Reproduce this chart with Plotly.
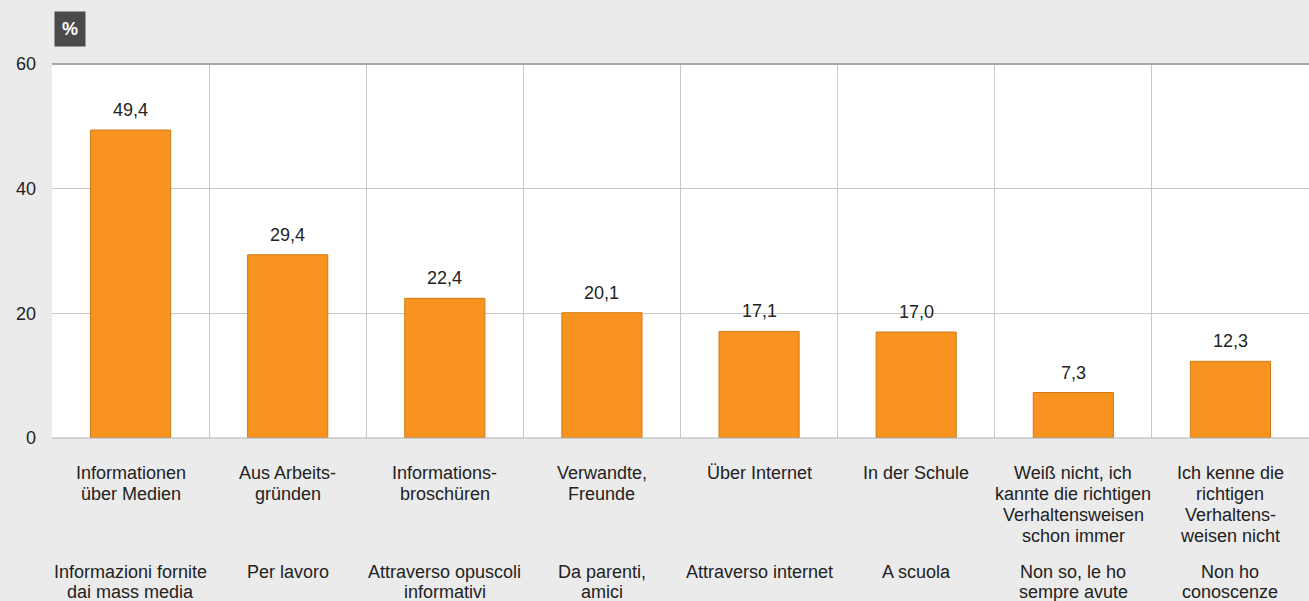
import plotly.graph_objects as go

categories_de = [
    "Informationen<br>über Medien",
    "Aus Arbeits-<br>gründen",
    "Informations-<br>broschüren",
    "Verwandte,<br>Freunde",
    "Über Internet",
    "In der Schule",
    "Weiß nicht, ich<br>kannte die richtigen<br>Verhaltensweisen<br>schon immer",
    "Ich kenne die<br>richtigen<br>Verhaltens-<br>weisen nicht",
]
categories_it = [
    "Informazioni fornite<br>dai mass media",
    "Per lavoro",
    "Attraverso opuscoli<br>informativi",
    "Da parenti,<br>amici",
    "Attraverso internet",
    "A scuola",
    "Non so, le ho<br>sempre avute",
    "Non ho<br>conoscenze",
]
values = [49.4, 29.4, 22.4, 20.1, 17.1, 17.0, 7.3, 12.3]
y_ticks = [0, 20, 40, 60]

FONT = "Liberation Sans, Arial, sans-serif"
TXT = "#222222"
xs = list(range(len(values)))

fig = go.Figure()
fig.add_trace(go.Bar(
    x=xs, y=values, width=0.51,
    marker=dict(color="#f7931e", line=dict(color="#d07a16", width=1)),
    hoverinfo="skip",
))

annotations = []
for i, v in zip(xs, values):
    annotations.append(dict(x=i, y=v, xref="x", yref="y", yanchor="middle", yshift=20,
                            text=f"{v:.1f}".replace(".", ","), showarrow=False,
                            font=dict(size=18, color=TXT, family=FONT)))
    for k, line in enumerate(categories_de[i].split("<br>")):
        annotations.append(dict(x=i, y=0, xref="x", yref="paper", yanchor="middle",
                                yshift=-(35 + 21 * k), text=line, showarrow=False,
                                font=dict(size=18, color=TXT, family=FONT)))
    for k, line in enumerate(categories_it[i].split("<br>")):
        annotations.append(dict(x=i, y=0, xref="x", yref="paper", yanchor="middle",
                                yshift=-(134 + 20 * k), text=line, showarrow=False,
                                font=dict(size=18, color=TXT, family=FONT)))
annotations.append(dict(x=0, y=1, xref="paper", yref="paper", xanchor="center", yanchor="middle",
                        xshift=17.5, yshift=35.5, text="<b>%</b>", showarrow=False,
                        bgcolor="#4a4a4a", borderpad=7,
                        font=dict(size=18, color="white", family=FONT)))

fig.update_layout(
    width=1309, height=601,
    margin=dict(l=52, r=0, t=64, b=163),
    paper_bgcolor="#ebebeb", plot_bgcolor="white",
    showlegend=False,
    font=dict(family=FONT, size=18, color=TXT),
    annotations=annotations,
    xaxis=dict(range=[-0.5, 7.5], tickvals=[0.5 + k for k in range(7)], showticklabels=False,
               showgrid=True, gridcolor="#c8c8c8", gridwidth=1, zeroline=False, ticks="",
               fixedrange=True),
    yaxis=dict(range=[0, 60], tickvals=y_ticks, showgrid=True, gridcolor="#c8c8c8",
               zeroline=False, ticks="", ticklabelstandoff=15,
               tickfont=dict(size=18, color=TXT, family=FONT),
               showline=False, fixedrange=True),
    shapes=[dict(type="line", xref="paper", yref="paper", x0=0, x1=1, y0=1, y1=1,
                 line=dict(color="#a8a8a8", width=2)),
            dict(type="line", xref="paper", yref="paper", x0=0, x1=1, y0=0, y1=0,
                 line=dict(color="#b0b0b0", width=1))],
)

fig.write_html("out.html", config={"displayModeBar": False},
               post_script="document.body.style.margin='0';document.body.style.background='#ebebeb';")
